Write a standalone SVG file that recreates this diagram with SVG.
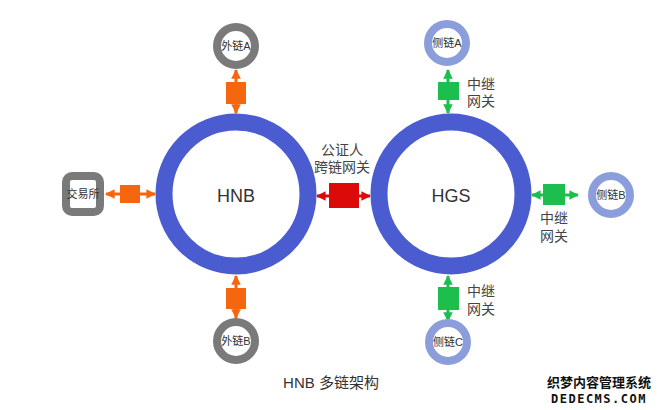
<svg xmlns="http://www.w3.org/2000/svg" width="660" height="410" viewBox="0 0 660 410">
<defs>
<style>
.t{font-family:"Liberation Sans","Noto Sans CJK SC",sans-serif;fill:#333}
.big{stroke:#4a5ccf;stroke-width:17;fill:none}
.ext{stroke:#7a7a7a;stroke-width:8;fill:#fff}
.side{stroke:#8b9edb;stroke-width:8;fill:#fff}
.lbl{font-size:14px;fill:#444}
.sl{font-size:11px;fill:#333}
</style>
<marker id="ao" viewBox="0 0 10 10" refX="9" refY="5" markerWidth="3.2" markerHeight="3.2" orient="auto-start-reverse"><path d="M0,0L10,5L0,10z" fill="#f5660f"/></marker>
<marker id="ar" viewBox="0 0 10 10" refX="9" refY="5" markerWidth="3.2" markerHeight="3.2" orient="auto-start-reverse"><path d="M0,0L10,5L0,10z" fill="#dd0a0a"/></marker>
<marker id="ag" viewBox="0 0 10 10" refX="9" refY="5" markerWidth="3.2" markerHeight="3.2" orient="auto-start-reverse"><path d="M0,0L10,5L0,10z" fill="#1cbf4e"/></marker>
</defs>
<rect width="660" height="410" fill="#fff"/>
<g id="connectors">
<g stroke="#f5660f" stroke-width="3" fill="#f5660f">
<line x1="236" y1="70" x2="236" y2="113" marker-start="url(#ao)" marker-end="url(#ao)"/>
<rect x="226" y="82" width="20" height="22" stroke="none"/>
<line x1="106" y1="194" x2="155" y2="194" marker-start="url(#ao)" marker-end="url(#ao)"/>
<rect x="120" y="185" width="20" height="18" stroke="none"/>
<line x1="236" y1="276" x2="236" y2="318" marker-start="url(#ao)" marker-end="url(#ao)"/>
<rect x="226" y="288" width="20" height="21" stroke="none"/>
</g>
<g stroke="#dd0a0a" stroke-width="3" fill="#dd0a0a">
<line x1="317" y1="196" x2="370" y2="196" marker-start="url(#ar)" marker-end="url(#ar)"/>
<rect x="329" y="183" width="30" height="25" stroke="none"/>
</g>
<g stroke="#1cbf4e" stroke-width="3" fill="#1cbf4e">
<line x1="448" y1="70" x2="448" y2="113" marker-start="url(#ag)" marker-end="url(#ag)"/>
<rect x="438" y="82" width="21" height="18" stroke="none"/>
<line x1="532" y1="195" x2="578" y2="195" marker-start="url(#ag)" marker-end="url(#ag)"/>
<rect x="543" y="184" width="22" height="21" stroke="none"/>
<line x1="448" y1="276" x2="448" y2="321" marker-start="url(#ag)" marker-end="url(#ag)"/>
<rect x="438" y="287" width="21" height="23" stroke="none"/>
</g>
<text class="t lbl" x="342" y="155" text-anchor="middle">公证人</text>
<text class="t lbl" x="342" y="172" text-anchor="middle">跨链网关</text>
<text class="t lbl" x="467" y="89">中继</text>
<text class="t lbl" x="467" y="106">网关</text>
<text class="t lbl" x="540" y="223">中继</text>
<text class="t lbl" x="540" y="241">网关</text>
<text class="t lbl" x="467" y="296">中继</text>
<text class="t lbl" x="467" y="314">网关</text>
</g>
<g id="HNB">
<circle class="big" cx="236" cy="194" r="72"/>
<text class="t" x="236" y="202" font-size="18" text-anchor="middle" fill="#222">HNB</text>
</g>
<g id="HGS">
<circle class="big" cx="451" cy="194" r="72"/>
<text class="t" x="451" y="202" font-size="18" text-anchor="middle" fill="#222">HGS</text>
</g>
<g id="extA">
<circle class="ext" cx="236" cy="46" r="19"/>
<text class="t sl" x="236" y="50" text-anchor="middle">外链A</text>
</g>
<g id="extB">
<circle class="ext" cx="236" cy="341" r="19"/>
<text class="t sl" x="236" y="345" text-anchor="middle">外链B</text>
</g>
<g id="exchange">
<rect class="ext" x="66" y="176" width="34" height="36" rx="6"/>
<text class="t sl" x="83" y="198" text-anchor="middle">交易所</text>
</g>
<g id="sideA">
<circle class="side" cx="447" cy="43" r="19"/>
<text class="t sl" x="447" y="47" text-anchor="middle">侧链A</text>
</g>
<g id="sideB">
<circle class="side" cx="611" cy="195" r="19"/>
<text class="t sl" x="611" y="199" text-anchor="middle">侧链B</text>
</g>
<g id="sideC">
<circle class="side" cx="448" cy="342" r="19"/>
<text class="t sl" x="448" y="346" text-anchor="middle">侧链C</text>
</g>
<text class="t" x="331" y="388" font-size="15" text-anchor="middle">HNB 多链架构</text>
<g font-family="'Noto Sans CJK SC',sans-serif" font-weight="bold" fill="#111" stroke="#fff" stroke-width="0.6" paint-order="stroke">
<text x="599" y="387" font-size="13" text-anchor="middle">织梦内容管理系统</text>
<text x="599" y="403" font-size="12" letter-spacing="1.5" text-anchor="middle" font-family="'DejaVu Sans Mono',monospace">DEDECMS.COM</text>
</g>
</svg>
